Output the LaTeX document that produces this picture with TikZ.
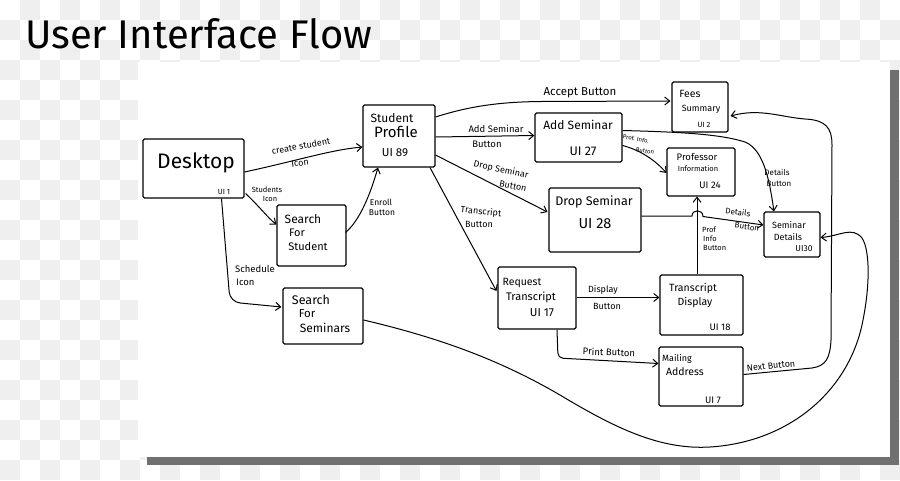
\documentclass[tikz,border=0pt]{standalone}
\usepackage{fontspec}
\setmainfont{Fira Sans}
\usetikzlibrary{arrows.meta,calc}
\definecolor{checker}{HTML}{EFEFEF}
\definecolor{shadow}{HTML}{707070}
\begin{document}
\begin{tikzpicture}[x=1pt,y=-1pt,
  box/.style={draw, line width=1.1pt, rounded corners=1.5pt, inner sep=0pt},
  arr/.style={draw, line width=1pt, -{Straight Barb[length=5pt,width=8pt,line width=1pt]}},
  txt/.style={inner sep=0pt, font=\fontsize{#1}{#1}\selectfont},
  lab/.style={inner sep=0pt, font=\fontsize{#1}{#1}\selectfont}]
\useasboundingbox (0,0) rectangle (900,480);
% checkerboard background
\fill[white] (0,0) rectangle (900,480);
\foreach \j in {0,2,...,22} \foreach \i in {1,3,...,43} \fill[checker] (\i*20,\j*20) rectangle ++(20,20);
\foreach \j in {1,3,...,23} \foreach \i in {0,2,...,44} \fill[checker] (\i*20,\j*20) rectangle ++(20,20);
% paper with shadow
\fill[shadow] (147,457) rectangle (899,465);
\fill[shadow] (890,70) rectangle (899,465);
\fill[white] (138,62) rectangle (890,457);
% title
\node[anchor=base west, inner sep=0pt, font=\fontsize{40}{40}\selectfont] (title) at (25,48) {User Interface Flow};

% boxes
\node[box, minimum width=101pt, minimum height=59pt] (desk) at (193.5,168.5) {};
\node[box, minimum width=72pt, minimum height=62pt] (sprof) at (399,136) {};
\node[box, minimum width=69pt, minimum height=61pt] (ssearch) at (311.5,235.5) {};
\node[box, minimum width=80pt, minimum height=56pt] (semsearch) at (323,316) {};
\node[box, minimum width=87pt, minimum height=49pt] (add) at (578.5,137.5) {};
\node[box, minimum width=56pt, minimum height=50pt] (fees) at (700,107) {};
\node[box, minimum width=68pt, minimum height=48pt] (profinfo) at (701,172) {};
\node[box, minimum width=92pt, minimum height=64pt] (drop) at (595,220) {};
\node[box, minimum width=56pt, minimum height=45pt] (semdet) at (792,234.5) {};
\node[box, minimum width=78pt, minimum height=62pt] (req) at (537,298) {};
\node[box, minimum width=83pt, minimum height=60pt] (tdisp) at (701.5,305) {};
\node[box, minimum width=84pt, minimum height=59pt] (mail) at (701,376.5) {};

% box texts
\node[txt=21] (t1) at (196,163) {Desktop};
\node[txt=7.5] (t2) at (224,192) {UI 1};
\node[txt=12] (t3) at (392,118) {Student};
\node[txt=15] (t4) at (396,132) {Profile};
\node[txt=11.5] (t5) at (395,153) {UI 89};
\node[txt=12] (t6) at (303,219) {Search};
\node[txt=11] (t7) at (297,233) {For};
\node[txt=11] (t8) at (308,246) {Student};
\node[txt=12.5] (t9) at (311,300) {Search};
\node[txt=11.5] (t10) at (307,314) {For};
\node[txt=12] (t11) at (325,328) {Seminars};
\node[txt=12] (t12) at (578,125) {Add Seminar};
\node[txt=12.5] (t13) at (583,151) {UI 27};
\node[txt=10.5] (t14) at (690,94) {Fees};
\node[txt=9] (t15) at (701,109) {Summary};
\node[txt=7.5] (t16) at (704,125) {UI 2};
\node[txt=9.5] (t17) at (697,157) {Professor};
\node[txt=7.5] (t18) at (698,169) {Information};
\node[txt=9.5] (t19) at (710,185) {UI 24};
\node[txt=12.5] (t20) at (594,202) {Drop Seminar};
\node[txt=14.5] (t21) at (595,224) {UI 28};
\node[txt=9] (t22) at (789,225) {Seminar};
\node[txt=9] (t23) at (788,237) {Details};
\node[txt=8.5] (t24) at (804,249) {UI30};
\node[txt=10.5] (t25) at (522,283) {Request};
\node[txt=11] (t26) at (531,297) {Transcript};
\node[txt=11.5] (t27) at (542,313) {UI 17};
\node[txt=10.5] (t28) at (693,289) {Transcript};
\node[txt=10.5] (t29) at (695,303) {Display};
\node[txt=9.5] (t30) at (720,327) {UI 18};
\node[txt=9] (t31) at (677,359) {Mailing};
\node[txt=10.5] (t32) at (685,372) {Address};
\node[txt=9.5] (t33) at (713,400) {UI 7};

% connectors
\draw[arr] ($(desk.east)+(0,3.5)$) .. controls (300,160) and (330,150) .. ($(sprof.west)+(0,11)$);
\draw[arr] ($(desk.east)+(1,25)$) .. controls (258,205) and (268,218) .. ($(ssearch.west)+(0,-11)$);
\draw[arr] ($(ssearch.east)+(-1,-3)$) .. controls (360,220) and (370,195) .. ($(sprof.south)+(-21,0)$);
\draw[arr, rounded corners=10pt] ($(desk.south)+(28,0)$) -- (230,302) -- ($(semsearch.west)+(-1,-9)$);
\draw[arr] ($(sprof.east)+(0,-19)$) .. controls (470,106) and (500,102) .. (540,101.5) -- ($(fees.west)+(-1,-6)$);
\draw[arr] ($(sprof.east)+(0,1)$) -- ($(add.west)+(0,-2)$);
\draw[arr] ($(sprof.east)+(0,19)$) -- ($(drop.west)+(-1,-8)$);
\draw[arr] ($(sprof.south)+(31,0)$) -- ($(req.west)+(-1,-7)$);
\draw[arr] ($(add.east)+(0,8)$) .. controls (640,150) and (655,160) .. ($(profinfo.west)+(0,1)$);
\draw[arr] ($(add.east)+(0,-7)$) .. controls (680,132) and (720,134) .. (745,142) .. controls (765,150) and (770,185) .. ($(semdet.north)+(-18,0)$);
\draw[arr] ($(drop.east)+(0,-4)$) -- (692,216) .. controls (692,209) and (703,209) .. (703,216.5) -- ($(semdet.west)+(0,-9.5)$);
\draw[arr] ($(tdisp.north)+(-4.5,0)$) -- ($(profinfo.south)+(-4,0)$);
\draw[arr] ($(req.east)+(0,-0.5)$) -- ($(tdisp.west)+(0,-7.5)$);
\draw[arr, rounded corners=5pt] ($(req.south)+(20,0)$) -- (558,358) -- ($(mail.west)+(0,-13)$);
\draw[arr] ($(mail.east)+(0,-2)$) -- (812,368) .. controls (826,366) and (830,358) .. (831,340) -- (832,145) .. controls (832,128) and (826,120) .. (805,119) .. controls (780,117) and (760,108) .. ($(fees.east)+(2,9)$);
\draw[arr] ($(semsearch.east)+(0,4)$) .. controls (440,338) and (500,360) .. (560,395) .. controls (615,428) and (660,450) .. (710,447) .. controls (790,442) and (850,390) .. (863,320) .. controls (870,285) and (870,250) .. (862,238) .. controls (852,226) and (840,236) .. ($(semdet.east)+(0,3)$);

% connector labels
\node[lab=9, rotate=10] (l1) at (301,146) {create student};
\node[lab=9, rotate=8] (l2) at (300,163) {Icon};
\node[lab=7.5] (l3) at (267,190) {Students};
\node[lab=7.5] (l4) at (270,199) {Icon};
\node[lab=8.5] (l5) at (381,202) {Enroll};
\node[lab=8.5] (l6) at (382,213) {Button};
\node[lab=9.5, anchor=west] (l7) at (235,269) {Schedule};
\node[lab=9.5, anchor=west] (l8) at (236,282) {Icon};
\node[lab=11.5] (l9) at (580,93) {Accept Button};
\node[lab=9.5] (l10) at (496,129) {Add Seminar};
\node[lab=9.5] (l11) at (487,144) {Button};
\node[lab=9, rotate=-12] (l12) at (501,170) {Drop Seminar};
\node[lab=9, rotate=-12] (l13) at (513,186) {Button};
\node[lab=9, rotate=-6] (l14) at (481,212) {Transcript};
\node[lab=9] (l15) at (479,224) {Button};
\node[lab=6, rotate=-10] (l16) at (636,139) {Prof. Info.};
\node[lab=6, rotate=-10] (l17) at (645,151) {Button};
\node[lab=8] (l18) at (777,172) {Details};
\node[lab=8] (l19) at (779,184) {Button};
\node[lab=8, rotate=-8] (l20) at (738,212) {Details};
\node[lab=8, rotate=-8] (l21) at (747,227) {Button};
\node[lab=7.5, anchor=west] (l22) at (702,230) {Prof};
\node[lab=7.5, anchor=west] (l23) at (703,239) {Info};
\node[lab=7.5, anchor=west] (l24) at (703,248) {Button};
\node[lab=9] (l25) at (603,290) {Display};
\node[lab=9] (l26) at (607,306) {Button};
\node[lab=9.5, rotate=-2] (l27) at (609,352) {Print Button};
\node[lab=9, rotate=6] (l28) at (771,366) {Next Button};
\end{tikzpicture}
\end{document}
